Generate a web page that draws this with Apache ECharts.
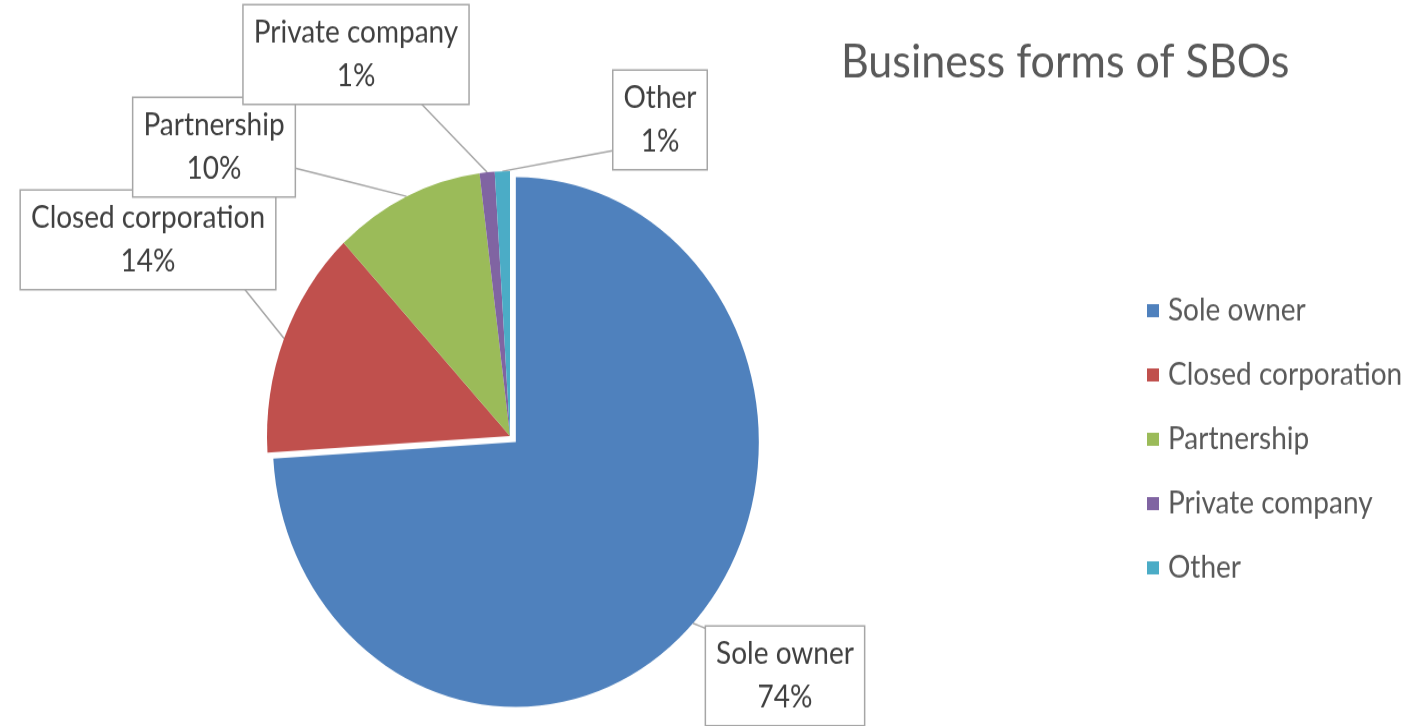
<!DOCTYPE html>
<html>
<head>
<meta charset="utf-8">
<script src="https://cdn.jsdelivr.net/npm/echarts@6/dist/echarts.min.js"></script>
<style>
  html, body { margin: 0; padding: 0; background: #ffffff; overflow: hidden; }
  #wrap { width: 1414px; height: 726px; overflow: hidden; }
  /* chart drawn at a slightly flattened height and stretched back vertically */
  #chart { width: 1414px; height: 666px; transform: scaleY(1.09); transform-origin: 0 0; }
</style>
</head>
<body>
<div id="wrap"><div id="chart"></div></div>
<script>
// Business forms of small business owners (share of respondents, %)
const categories = ['Sole owner', 'Closed corporation', 'Partnership', 'Private company', 'Other'];
const shares = [74, 14, 10, 1, 1];
const colors = ['#4F81BD', '#C0504D', '#9BBB59', '#8064A2', '#4BACC6'];
const titleText = 'Business forms of SBOs';

// callout box centres for each slice label
const calloutCentres = [
  [785, 620],
  [148, 220],
  [214, 135],
  [356, 50],
  [660, 110]
];
// where each leader line meets its callout box, relative to the box centre
const calloutAttach = [
  [-78, -43],
  [92, 40],
  [80, 19],
  [64, 44],
  [-46, 28]
];

const FONT = 'Lato, "Open Sans", sans-serif';
const PIE_CENTRE = [510, 400];
const PIE_RADIUS = 243;
const EXPLODE = 8;           // pull-out distance of the first slice
const EXPLODED = 0;          // index of the pulled-out slice

const total = shares.reduce((a, b) => a + b, 0);

// middle angle of a slice, clockwise from 12 o'clock, in radians
function midAngle(i) {
  const before = shares.slice(0, i).reduce((a, b) => a + b, 0);
  return (before + shares[i] / 2) / total * 2 * Math.PI;
}

const explodedCentre = [
  PIE_CENTRE[0] + EXPLODE * Math.sin(midAngle(EXPLODED)),
  PIE_CENTRE[1] - EXPLODE * Math.cos(midAngle(EXPLODED))
];

// point on the rim of a slice at its middle angle
function rimPoint(i) {
  const c = i === EXPLODED ? explodedCentre : PIE_CENTRE;
  const a = midAngle(i);
  return [c[0] + PIE_RADIUS * Math.sin(a), c[1] - PIE_RADIUS * Math.cos(a)];
}

const labelStyle = {
  show: true,
  position: 'outside',
  formatter: '{b}\n{d}%',
  fontFamily: FONT,
  fontSize: 28,
  lineHeight: 40,
  color: '#404040',
  backgroundColor: '#ffffff',
  borderColor: '#a6a6a6',
  borderWidth: 1.5,
  padding: [6, 10, 4, 10],
  align: 'center',
  overflow: 'none'
};

const labelLineStyle = {
  show: true,
  length: 20,
  length2: 20,
  lineStyle: { color: '#a6a6a6', width: 1.5 }
};

function placeCallout(params) {
  const i = params.dataIndex;
  const c = calloutCentres[i];
  const rim = rimPoint(i);
  const end = [c[0] + calloutAttach[i][0], c[1] + calloutAttach[i][1]];
  const mid = [(rim[0] + end[0]) / 2, (rim[1] + end[1]) / 2];
  return {
    x: c[0], y: c[1], align: 'center', verticalAlign: 'middle',
    labelLinePoints: [rim, mid, end]
  };
}

// one layer per group: the pulled-out slice and the remaining slices
function pieLayer(centre, showIndex) {
  return {
    type: 'pie',
    center: centre,
    radius: PIE_RADIUS,
    startAngle: 90,
    clockwise: true,
    percentPrecision: 0,
    avoidLabelOverlap: false,
    emphasis: { disabled: true },
    z: 2,
    data: categories.map((name, i) => {
      const shown = showIndex(i);
      return {
        name,
        value: shares[i],
        itemStyle: { color: shown ? colors[i] : 'rgba(0,0,0,0)' },
        label: { show: shown },
        labelLine: { show: shown }
      };
    }),
    label: labelStyle,
    labelLine: labelLineStyle,
    labelLayout: placeCallout
  };
}

const chart = echarts.init(document.getElementById('chart'), null, { renderer: 'canvas' });

chart.setOption({
  backgroundColor: '#ffffff',
  animation: false,
  title: {
    text: titleText,
    left: 836,
    top: 31,
    textStyle: { fontFamily: FONT, fontSize: 43, fontWeight: 'normal', color: '#595959' }
  },
  legend: {
    orient: 'vertical',
    left: 1142,
    top: 265,
    icon: 'rect',
    itemWidth: 12,
    itemHeight: 12,
    itemGap: 29,
    selectedMode: false,
    data: categories.map((name, i) => ({ name, itemStyle: { color: colors[i] } })),
    textStyle: { fontFamily: FONT, fontSize: 28, lineHeight: 30, color: '#595959', padding: [0, 0, 0, 4] }
  },
  series: [
    pieLayer(PIE_CENTRE, i => i !== EXPLODED),
    pieLayer(explodedCentre, i => i === EXPLODED)
  ]
});
</script>
</body>
</html>
